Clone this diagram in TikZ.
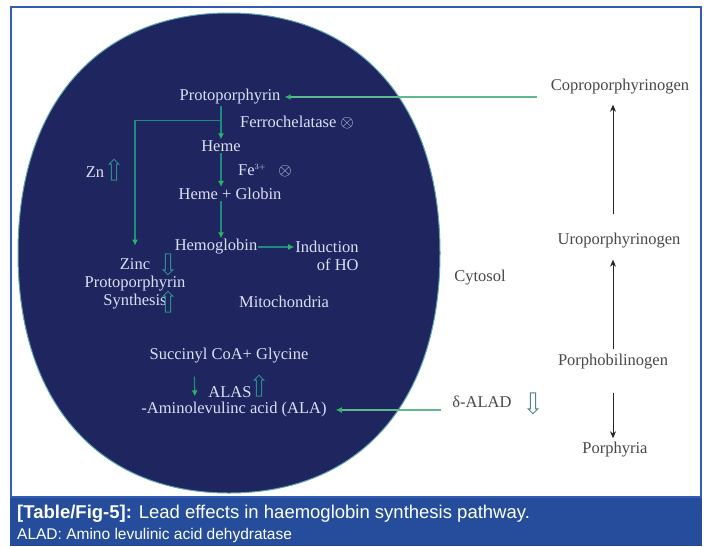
\documentclass[tikz,border=0pt]{standalone}
\usepackage{fontspec}
\setmainfont{Liberation Serif}
\setsansfont{Liberation Sans}
\usetikzlibrary{arrows.meta, calc, positioning, shapes.arrows}
\definecolor{cellcol}{RGB}{31, 37, 94}
\definecolor{rimcol}{RGB}{95, 165, 180}
\definecolor{inkcol}{RGB}{218, 224, 246}
\definecolor{greycol}{RGB}{72, 72, 72}
\definecolor{pathcol}{RGB}{30, 140, 125}
\definecolor{tipcol}{RGB}{45, 180, 100}
\definecolor{feedcol}{RGB}{95, 185, 140}
\definecolor{hollowcol}{RGB}{45, 140, 140}
\definecolor{framecol}{RGB}{50, 92, 182}
\definecolor{capcol}{RGB}{37, 77, 155}
\tikzset{
  txt/.style     = {font=\fontsize{16.5}{18}\selectfont, inner sep=1pt,
                    align=center},
  intext/.style  = {txt, text=inkcol},
  outtext/.style = {txt, text=greycol},
  flow/.style    = {-{Latex[length=6pt, width=6pt, color=tipcol]},
                    draw=pathcol, line width=1.3pt},
  feed/.style    = {flow, draw=feedcol},
  chain/.style   = {-{Stealth[length=7pt, width=6pt]}, draw=black!85,
                    line width=0.9pt},
  % the open arrows that mark a rise or a fall
  hollow/.style  = {single arrow, draw=hollowcol, line width=0.9pt,
                    minimum height=21pt, minimum width=10pt, inner sep=2pt,
                    single arrow head extend=2.2pt},
  rise/.style    = {hollow, shape border rotate=90},
  drop/.style    = {hollow, shape border rotate=270},
  captxt/.style  = {font=\sffamily\fontsize{18.5}{20}\selectfont, text=white,
                    inner sep=0pt, anchor=west},
  capsub/.style  = {font=\sffamily\fontsize{15.5}{17}\selectfont, text=white,
                    inner sep=0pt, anchor=west},
}

\begin{document}
\begin{tikzpicture}[x=1pt, y=-1pt]

  \useasboundingbox (0,0) rectangle (706,546);
  \fill[white] (0,0) rectangle (706,546);

  %% ---------------- frame and caption band ----------------
  \fill[capcol] (10,497) rectangle (702,546);
  \draw[framecol, line width=1.2pt] (11,7) rectangle (701,497);

  %% ---------------- the cell ----------------
  \draw[fill=cellcol, draw=rimcol, line width=1pt]
    (18,253) .. controls (18,104) and (98,13) .. (229,13)
             .. controls (360,13) and (440,104) .. (440,253)
             .. controls (440,402) and (360,493) .. (229,493)
             .. controls (98,493) and (18,402) .. (18,253);

  %% ---------------- mitochondria ----------------
  \node[intext] (proto) at (230,97) {Protoporphyrin};
  \node[intext] (ferro) at (297,122) {Ferrochelatase $\otimes$};
  \node[intext] (heme) at (221,146) {Heme};
  \node[intext] (fe) at (265,171) {Fe$^{\scriptscriptstyle 3+}$\ \ \ $\otimes$};
  \node[intext] (hg) at (230,194) {Heme + Globin};
  \node[intext] (hb) at (216,247) {Hemoglobin};
  \node[intext, align=right] (ho) at (327,256) {Induction\\of HO};
  \node[intext] (znpp) at (135,284) {Zinc\\Protoporphyrin\\Synthesis};
  \node[intext] (zn) at (95,172) {Zn};
  \node[rise] (znup) at (114,171) {};
  \node[drop] (zpdown) at (168,263) {};
  \node[rise] (zpup) at (168,303) {};
  \node[intext] (mito) at (284,302) {Mitochondria};

  \node[intext] (succ) at (229,356) {Succinyl CoA+ Glycine};
  \node[intext] (alas) at (230,392) {ALAS};
  \node[rise] (alasup) at (259,387) {};
  \node[intext] (ala) at (234,410) {-Aminolevulinc acid (ALA)};

  %% ---------------- cytosol ----------------
  \node[outtext] (cyto) at (480,278) {Cytosol};
  \node[outtext] (alad) at (482,402) {δ-ALAD};
  \node[drop, fill=white, draw=hollowcol!60!gray] (aladdown) at (533,402) {};

  \node[outtext] (copro) at (620,87) {Coproporphyrinogen};
  \node[outtext] (uro) at (619,241) {Uroporphyrinogen};
  \node[outtext] (pbg) at (613,362) {Porphobilinogen};
  \node[outtext] (porph) at (615,450) {Porphyria};

  %% ---------------- arrows inside the cell ----------------
  \coordinate (trunk) at (heme.north |- proto.south);
  \coordinate (split) at ($(trunk)!0.45!(heme.north)$);
  \draw[flow] (trunk) -- (heme.north);
  \draw[flow] (split) -| ([yshift=12pt]znpp.north);
  \draw[flow] (heme.south) -- (heme.south |- hg.north);
  \draw[flow] (heme.south |- hg.south) -- (heme.south |- hb.north);
  \draw[flow] (hb.east) -- (hb.east -| ho.west);
  \draw[flow, shorten <=12pt, shorten >=5pt]
       ([xshift=-35pt]succ.south) -- ([xshift=-39pt]ala.north);

  %% ---------------- arrows from the cytosol ----------------
  \coordinate (coproin) at ([xshift=-13pt]copro.west);
  \coordinate (aladin) at ([xshift=-10pt]alad.west);
  \draw[feed] (coproin |- proto.east) -- ([xshift=3pt]proto.east);
  \draw[feed] (aladin |- ala.east) -- ([xshift=8pt]ala.east);

  \draw[chain, shorten <=4pt, shorten >=10pt] (pbg.north) -- (pbg.north |- uro.south);
  \draw[chain, shorten <=18pt, shorten >=9pt] (pbg.north |- uro.north) -- (pbg.north |- copro.south);
  \draw[chain, shorten <=22pt, shorten >=3pt] (pbg.south) -- (pbg.south |- porph.north);

  %% ---------------- caption ----------------
  \node[captxt] (capa) at (17,514)
       {\textbf{[Table/Fig-5]:} Lead effects in haemoglobin synthesis pathway.};
  \node[capsub] (capb) at (17,535) {ALAD: Amino levulinic acid dehydratase};

\end{tikzpicture}
\end{document}
